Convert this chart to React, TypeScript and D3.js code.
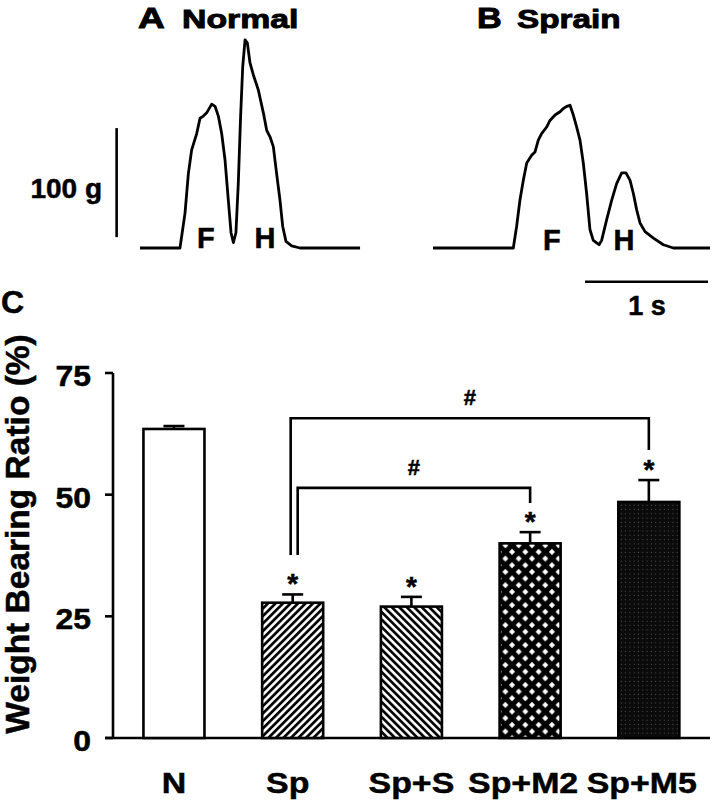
import React from "react";
import * as d3 from "d3";

// ---- Panel A/B traces (time in ms, force in g) ----
const normalTrace: [number, number][] = [
  [0, 0], [325, 0], [366, 32], [393, 68], [420, 90], [461, 105], [488, 119], [515, 121],
  [542, 124], [583, 132], [610, 130], [637, 121], [664, 105], [691, 81], [718, 44],
  [740, 14], [759, 5], [780, 14], [799, 59], [818, 121], [835, 166], [854, 191],
  [873, 188], [894, 170], [921, 159], [962, 145], [1003, 124], [1030, 108], [1057, 102],
  [1084, 93], [1111, 68], [1138, 44], [1160, 20], [1187, 6], [1233, 2], [1301, 0], [1789, 0],
];
const sprainTrace: [number, number][] = [
  [0, 0], [653, 0], [680, 20], [707, 44], [734, 62], [762, 78], [802, 85], [829, 88],
  [856, 99], [883, 105], [924, 111], [951, 117], [992, 122], [1033, 125], [1060, 128],
  [1087, 130], [1114, 131], [1141, 122], [1168, 111], [1195, 99], [1222, 78], [1249, 50],
  [1276, 17], [1303, 7], [1350, 3], [1371, 7], [1412, 26], [1453, 44], [1493, 59],
  [1534, 69], [1569, 69], [1602, 62], [1629, 50], [1656, 35], [1683, 23], [1724, 15],
  [1792, 9], [1873, 3], [1954, 0], [2252, 0],
];
const forceBar = [10, 110]; // 100 g scale bar (g)
const timeBar = [1236, 2236]; // 1 s scale bar (ms)

// ---- Panel C bar chart ----
const categories = ["N", "Sp", "Sp+S", "Sp+M2", "Sp+M5"];
const means = [63.5, 27.8, 27.0, 40.0, 48.5];
const sems = [0.6, 1.7, 2.0, 2.3, 4.5];
const starred = [false, true, true, true, true];
const fills = ["white", "url(#diagUp)", "url(#diagDown)", "url(#cross)", "url(#dots)"];
const yTicks = [0, 25, 50, 75];
const brackets = [
  { from: 1, to: 4, top: 65.7, leftEnd: 37.6, rightEnd: 59.2, leftShift: -2, label: "#" },
  { from: 1, to: 3, top: 51.4, leftEnd: 37.6, rightEnd: 48.3, leftShift: 5, label: "#" },
];

const FONT = "'Liberation Sans', Arial, Helvetica, sans-serif";

function T(props: { x: number; y: number; size: number; sx?: number; anchor?: string; children: React.ReactNode; rotate?: number; bold?: number }) {
  const { x, y, size, sx = 1, anchor = "start", children, rotate = 0, bold = 0.5 } = props;
  return (
    <text
      transform={`translate(${x},${y}) rotate(${rotate}) scale(${sx},1)`}
      fontSize={size}
      textAnchor={anchor}
      stroke="black"
      strokeWidth={bold}
    >
      {children}
    </text>
  );
}

export default function App() {
  // trace scales
  const xA = d3.scaleLinear().domain([0, 1000]).range([140, 263]);
  const xB = d3.scaleLinear().domain([0, 1000]).range([433, 556]);
  const yT = d3.scaleLinear().domain([0, 100]).range([248, 139]);
  const lineA = d3.line<[number, number]>().x((d) => xA(d[0])).y((d) => yT(d[1]));
  const lineB = d3.line<[number, number]>().x((d) => xB(d[0])).y((d) => yT(d[1]));

  // bar chart scales
  const x = d3.scaleBand<string>().domain(categories).range([114.6, 708.2]).paddingInner(0.486).paddingOuter(0.243);
  const y = d3.scaleLinear().domain([0, 75]).range([738, 373]);
  const bw = x.bandwidth();
  const cx = (i: number) => (x(categories[i]) as number) + bw / 2;

  const sw = 2.6;

  return (
    <svg width={720} height={800} style={{ position: "absolute", left: 0, top: 0, background: "white" }} fontFamily={FONT} fontWeight="bold">
      <defs>
        <pattern id="diagUp" patternUnits="userSpaceOnUse" width={5.3} height={5.3} patternTransform="rotate(45)">
          <rect width={5.3} height={5.3} fill="white" />
          <line x1={1.4} y1={0} x2={1.4} y2={5.3} stroke="black" strokeWidth={2.7} />
        </pattern>
        <pattern id="diagDown" patternUnits="userSpaceOnUse" width={5.3} height={5.3} patternTransform="rotate(-45)">
          <rect width={5.3} height={5.3} fill="white" />
          <line x1={1.4} y1={0} x2={1.4} y2={5.3} stroke="black" strokeWidth={2.7} />
        </pattern>
        <pattern id="cross" patternUnits="userSpaceOnUse" width={13.3} height={13.3}>
          <rect width={13.3} height={13.3} fill="black" />
          {[[6.65, 6.65], [0, 0], [13.3, 0], [0, 13.3], [13.3, 13.3]].map(([px, py], i) => (
            <path key={i} d={`M${px - 3},${py} L${px},${py - 3} L${px + 3},${py} L${px},${py + 3} Z`} fill="white" />
          ))}
        </pattern>
        <pattern id="dots" patternUnits="userSpaceOnUse" width={4.3} height={4.3}>
          <rect width={4.3} height={4.3} fill="#0b0b0b" />
          <rect x={1.6} y={1.6} width={1} height={1} fill="#555" />
        </pattern>
      </defs>

      {/* Panel titles */}
      <T x={138} y={28} size={29} sx={1.28} bold={0.9}>A</T>
      <T x={182} y={28} size={26} sx={1.3} bold={0.9}>Normal</T>
      <T x={477} y={28} size={29} sx={1.18} bold={0.9}>B</T>
      <T x={517} y={28} size={26} sx={1.28} bold={0.9}>Sprain</T>

      {/* Traces */}
      <path d={lineA(normalTrace) ?? ""} fill="none" stroke="black" strokeWidth={2.8} strokeLinejoin="round" />
      <path d={lineB(sprainTrace) ?? ""} fill="none" stroke="black" strokeWidth={2.8} strokeLinejoin="round" />
      <T x={xA(536)} y={yT(0)} size={29} anchor="middle">F</T>
      <T x={xA(1017)} y={yT(0)} size={29} anchor="middle">H</T>
      <T x={xB(967)} y={yT(-2)} size={29} anchor="middle">F</T>
      <T x={xB(1553)} y={yT(-2)} size={29} anchor="middle">H</T>

      {/* 100 g scale bar */}
      <line x1={xA(-190)} x2={xA(-190)} y1={yT(forceBar[0])} y2={yT(forceBar[1])} stroke="black" strokeWidth={sw} />
      <T x={102} y={198} size={28} anchor="end">100 g</T>

      {/* 1 s scale bar */}
      <line x1={xB(timeBar[0])} x2={xB(timeBar[1])} y1={yT(-31)} y2={yT(-31)} stroke="black" strokeWidth={sw} />
      <T x={647} y={315} size={27} anchor="middle">1 s</T>

      {/* Panel C */}
      <T x={1} y={313} size={32}>C</T>
      <T x={29} y={534} size={33.5} anchor="middle" rotate={-90}>Weight Bearing Ratio (%)</T>

      {/* y axis */}
      <line x1={113} x2={113} y1={y(75)} y2={y(0)} stroke="black" strokeWidth={sw} />
      {yTicks.map((t) => (
        <g key={t}>
          <line x1={105} x2={113} y1={y(t)} y2={y(t)} stroke="black" strokeWidth={sw} />
          <T x={91} y={y(t) + 13} size={29} anchor="end" sx={1.1}>{t}</T>
        </g>
      ))}
      {/* x axis */}
      <line x1={105} x2={710} y1={y(0)} y2={y(0)} stroke="black" strokeWidth={sw} />

      {/* bars */}
      {categories.map((c, i) => (
        <g key={c}>
          <line x1={cx(i)} x2={cx(i)} y1={y(means[i])} y2={y(means[i] + sems[i])} stroke="black" strokeWidth={sw} />
          <line x1={cx(i) - 10.5} x2={cx(i) + 10.5} y1={y(means[i] + sems[i])} y2={y(means[i] + sems[i])} stroke="black" strokeWidth={sw} />
          <rect x={x(c)} y={y(means[i])} width={bw} height={y(0) - y(means[i])} fill={fills[i]} stroke="black" strokeWidth={sw} />
          {starred[i] && (
            <T x={cx(i)} y={y(means[i] + sems[i]) - 1} size={28} anchor="middle">*</T>
          )}
          <T x={cx(i) - (i >= 3 ? 7 : i === 1 ? 5 : 0)} y={793} size={30} anchor="middle" sx={1.13}>{c}</T>
        </g>
      ))}

      {/* significance brackets */}
      {brackets.map((b, i) => {
        const x1 = cx(b.from) + b.leftShift;
        const x2 = cx(b.to);
        return (
          <g key={i}>
            <path d={`M${x1},${y(b.leftEnd)} V${y(b.top)} H${x2} V${y(b.rightEnd)}`} fill="none" stroke="black" strokeWidth={sw} />
            <T x={(x1 + x2) / 2} y={y(b.top) - 13} size={22} anchor="middle">{b.label}</T>
          </g>
        );
      })}
    </svg>
  );
}
